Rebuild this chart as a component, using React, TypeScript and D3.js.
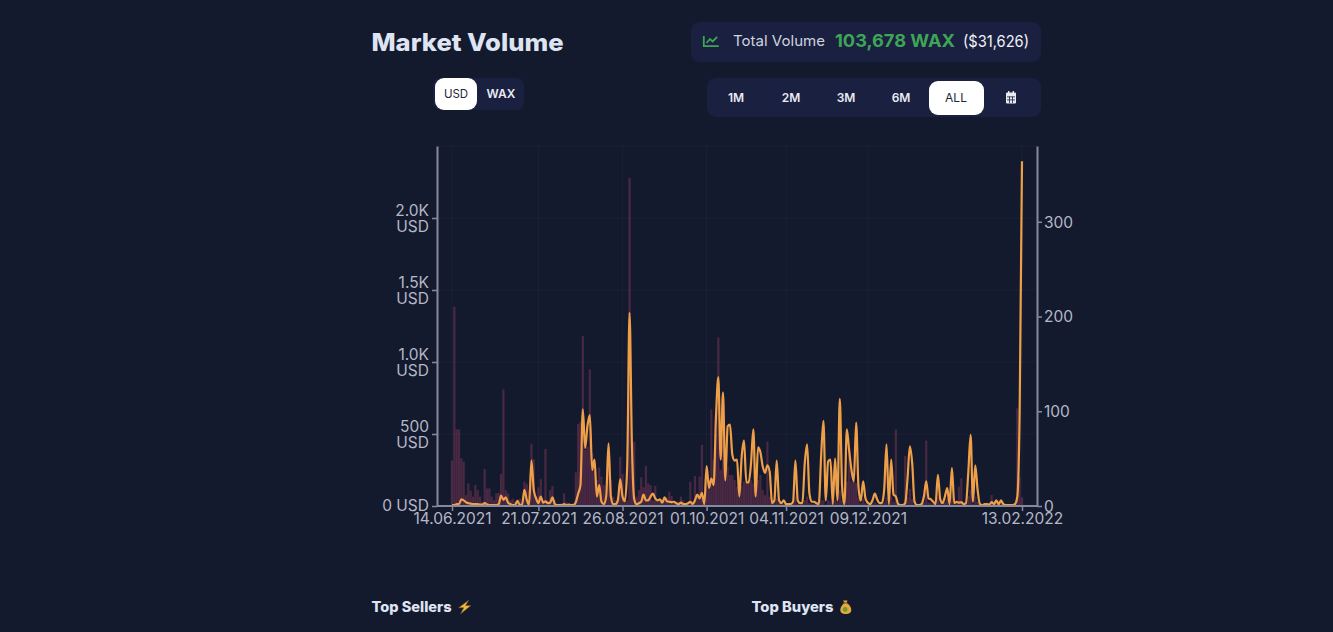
import { useEffect, useRef } from "react";
import * as d3 from "d3";

const startDate = "2021-06-14";
const tickDates = ["2021-06-14", "2021-07-21", "2021-08-26", "2021-10-01", "2021-11-04", "2021-12-09", "2022-02-13"];
const usdTicks = [0, 500, 1000, 1500, 2000];
const usdLabels = ["0 USD", "500", "1.0K", "1.5K", "2.0K"];
const waxTicks = [0, 100, 200, 300];
const periods = ["1M", "2M", "3M", "6M", "ALL"];

// daily volume in USD (bars, left axis)
const usdVolume = [
  315, 1384, 532, 532, 331, 308, 76, 157, 106, 65, 146, 110, 65, 30, 257, 122, 122, 65, 40, 88,
  92, 222, 810, 110, 88, 40, 50, 30, 40, 50, 20, 169, 153, 110, 430, 326, 65, 130, 187, 40,
  396, 40, 110, 139, 40, 15, 15, 20, 88, 25, 15, 15, 20, 234, 569, 585, 1180, 389, 412, 949,
  366, 319, 180, 268, 204, 146, 65, 412, 180, 65, 40, 65, 342, 222, 65, 40, 2278, 342, 447, 65,
  110, 199, 130, 278, 157, 146, 40, 139, 40, 30, 40, 50, 60, 100, 70, 30, 15, 30, 65, 40,
  20, 20, 169, 30, 208, 60, 204, 424, 50, 130, 180, 671, 320, 500, 1171, 250, 440, 238, 273, 215,
  215, 180, 134, 123, 139, 169, 157, 169, 180, 157, 146, 180, 215, 111, 76, 447, 65, 40, 40, 50,
  20, 20, 15, 15, 10, 10, 15, 65, 15, 10, 15, 40, 65, 20, 15, 15, 10, 10, 40, 40,
  10, 40, 30, 10, 40, 30, 110, 40, 15, 169, 410, 169, 169, 160, 60, 20, 50, 20, 10, 10,
  15, 25, 15, 10, 10, 25, 60, 15, 65, 30, 532, 15, 10, 10, 347, 60, 120, 50, 10, 8,
  8, 10, 25, 454, 25, 20, 15, 10, 60, 20, 10, 25, 50, 10, 70, 10, 20, 134, 192, 15,
  15, 70, 110, 15, 65, 30, 10, 8, 10, 8, 8, 76, 15, 20, 10, 20, 10, 8, 8, 8,
  8, 10, 678, 200, 60,
];

// daily volume on the right axis (line)
const lineVolume = [
  1, 1, 2, 2, 7, 6, 4, 3, 2.5, 2, 2, 2, 1.5, 1.5, 3, 1.5, 1, 1, 1, 1,
  2, 11, 6.5, 9, 3.5, 2, 1, 1, 5.5, 1, 1.5, 17, 6.5, 1.5, 48, 17, 8, 3, 10, 3.5,
  5, 3, 3.5, 9, 2, 1, 1, 1, 2, 1, 1.5, 1, 1, 4, 13, 22, 102, 61, 85, 96,
  38, 49, 10, 22, 4.5, 2, 10, 66, 10, 2, 2, 6, 28, 10, 5, 42, 204, 66, 7, 2,
  3, 4.5, 12, 6, 6, 10, 13, 8, 6, 7, 3.5, 9, 5, 4.5, 4, 4.5, 3, 2, 3.5, 2,
  2, 3, 4.5, 2, 6, 12, 8, 14, 2, 42, 19, 29, 22, 94, 136, 49, 120, 27, 84, 86,
  54, 48, 49, 10, 52, 69, 25, 25, 45, 81, 10, 62, 57, 42, 35, 43, 36, 3, 6, 48,
  6, 3, 6, 2, 2, 2, 4.5, 48, 6, 3, 3.5, 45, 65, 13, 4.5, 4.5, 3, 2, 52, 90,
  6, 47, 49, 2, 50, 6, 113, 20, 2, 81, 59, 38, 26, 88, 20, 5.6, 26, 8, 3.5, 2,
  6, 13, 7, 3, 3, 17, 65, 2, 49, 12, 10, 2, 1, 1, 3, 29, 63, 45, 4.5, 1,
  1, 2, 10, 26, 8, 7, 4.5, 2, 33, 7, 3, 10, 19, 2, 40, 3, 4.5, 3.5, 4, 2,
  3, 35, 75, 4.5, 43, 17, 2, 1, 2, 2, 1.5, 4, 2, 6, 2, 6, 2, 1, 1, 1,
  1, 2, 10, 100, 364,
];

const fontFamily = "Inter, 'Open Sans', sans-serif";
const parseDate = d3.utcParse("%Y-%m-%d");
const fmtDate = d3.utcFormat("%d.%m.%Y");

function Header() {
  const panel = "#1a2040";
  const font = { fontFamily };
  return (
    <g style={font}>
      <text x={371.5} y={51} fontSize={24} fontWeight={800} fill="#dfe4f2" textLength={192} lengthAdjust="spacingAndGlyphs">
        Market Volume
      </text>

      {/* total volume */}
      <rect x={691} y={22} width={350} height={40} rx={9} fill={panel} />
      <g fill="none" stroke="#3fa556" strokeWidth={1.8}>
        <path d="M703.8 36v10.2h15" />
        <path d="M706.5 43l3.5-4 2.6 2.4 4.6-4.6" />
      </g>
      <text x={733} y={46} fontSize={14.5} fill="#cfd3de" textLength={92} lengthAdjust="spacingAndGlyphs">
        Total Volume
      </text>
      <text x={835} y={46.5} fontSize={18} fontWeight={700} fill="#3fa556" textLength={120} lengthAdjust="spacingAndGlyphs">
        103,678 WAX
      </text>
      <text x={963} y={46.5} fontSize={16} fill="#f2f3f7" textLength={66} lengthAdjust="spacingAndGlyphs">
        ($31,626)
      </text>

      {/* currency switch */}
      <rect x={433} y={78} width={91} height={32} rx={8} fill={panel} />
      <rect x={435} y={78} width={42} height={32} rx={9} fill="#ffffff" />
      <text x={456} y={98} fontSize={11.5} textAnchor="middle" fill="#23273a">
        USD
      </text>
      <text x={501} y={98} fontSize={12} fontWeight={600} textAnchor="middle" fill="#e9ebf3">
        WAX
      </text>

      {/* period switch */}
      <rect x={707} y={78} width={334} height={39} rx={9} fill={panel} />
      <rect x={929} y={81} width={55} height={34} rx={9} fill="#ffffff" />
      {periods.map((p, i) => (
        <text
          key={p}
          x={736 + i * 55}
          y={102}
          fontSize={12}
          fontWeight={p === "ALL" ? 400 : 600}
          textAnchor="middle"
          fill={p === "ALL" ? "#23273a" : "#e9ebf3"}
        >
          {p}
        </text>
      ))}
      <g fill="#e9ebf3">
        <rect x={1006} y={92.5} width={10} height={11} rx={1} />
        <rect x={1007} y={96.5} width={8} height={0.8} fill={panel} />
        <rect x={1007} y={99.5} width={8} height={0.8} fill={panel} />
        <rect x={1009} y={96.5} width={0.8} height={6.5} fill={panel} />
        <rect x={1012} y={96.5} width={0.8} height={6.5} fill={panel} />
        <rect x={1008} y={91} width={1.4} height={2.5} />
        <rect x={1012.6} y={91} width={1.4} height={2.5} />
      </g>

      {/* section titles */}
      <text x={371.5} y={612} fontSize={14} fontWeight={800} fill="#dfe4f2" textLength={80} lengthAdjust="spacingAndGlyphs">
        Top Sellers
      </text>
      <path d="M469 600l-10.5 7.8h5.2l-3.2 6.2 10.5-8.4h-5.4z" fill="#f3b63f" stroke="#5a4420" strokeWidth={0.5} />
      <text x={751.5} y={612} fontSize={14} fontWeight={800} fill="#dfe4f2" textLength={82} lengthAdjust="spacingAndGlyphs">
        Top Buyers
      </text>
      <path d="M843 600.5h4.5l-1 2.6c3 1.5 4.8 4.2 4.8 7 0 2.8-2.2 4-5.5 4s-5.5-1.2-5.5-4c0-2.8 1.8-5.5 4.6-7z" fill="#e2a93b" />
      <rect x={843} y={602.4} width={4.4} height={1.2} fill="#8a6420" />
      <circle cx={845.2} cy={609.5} r={2.4} fill="#6f9a34" />
    </g>
  );
}

export default function App() {
  const chartRef = useRef<SVGGElement>(null);

  useEffect(() => {
    if (!chartRef.current) return;
    document.body.style.margin = "0";
    document.body.style.background = "#141a2e";

    const svg = d3.select(chartRef.current);
    svg.selectAll("*").remove();

    const chart = { left: 437, right: 1037, top: 146, bottom: 506 };
    const start = parseDate(startDate) as Date;
    const dates = usdVolume.map((_, i) => d3.utcDay.offset(start, i));
    const ticks = tickDates.map((d) => parseDate(d) as Date);

    const x = d3
      .scaleUtc()
      .domain([start, ticks[ticks.length - 1]])
      .range([452, 1022]);
    const yUsd = d3.scaleLinear().domain([0, 2500]).range([chart.bottom, chart.top]);
    const yWax = d3.scaleLinear().domain([0, 380]).range([chart.bottom, chart.top]);

    const axisColor = "#868b9c";
    const labelColor = "#b4b8c6";
    const gridColor = "rgba(255,255,255,0.03)";

    // Grid lines
    const grid = svg.append("g").attr("stroke", gridColor).attr("stroke-width", 1);
    grid
      .selectAll("line.h")
      .data([...usdTicks.slice(1), 2500])
      .join("line")
      .attr("class", "h")
      .attr("x1", chart.left)
      .attr("x2", chart.right)
      .attr("y1", (d) => yUsd(d))
      .attr("y2", (d) => yUsd(d));
    grid
      .selectAll("line.v")
      .data(ticks)
      .join("line")
      .attr("class", "v")
      .attr("x1", (d) => x(d))
      .attr("x2", (d) => x(d))
      .attr("y1", chart.top)
      .attr("y2", chart.bottom);

    // Bars
    svg
      .append("g")
      .selectAll("rect")
      .data(usdVolume)
      .join("rect")
      .attr("x", (_, i) => x(dates[i]) - 1.1)
      .attr("width", 2.2)
      .attr("y", (d) => yUsd(d))
      .attr("height", (d) => chart.bottom - yUsd(d))
      .attr("fill", "#e0507a")
      .attr("fill-opacity", 0.26);

    // Line
    const line = d3
      .line<number>()
      .x((_, i) => x(dates[i]))
      .y((d) => yWax(d))
      .curve(d3.curveMonotoneX);
    svg
      .append("path")
      .datum(lineVolume)
      .attr("d", line)
      .attr("fill", "none")
      .attr("stroke", "#ee9f48")
      .attr("stroke-width", 2.2)
      .attr("stroke-linejoin", "round");

    const styleAxis = (g: any) => {
      g.select(".domain").attr("stroke", axisColor).attr("stroke-width", 2);
      g.selectAll(".tick line").attr("stroke", axisColor).attr("stroke-width", 1.5);
      g.selectAll(".tick text")
        .attr("fill", labelColor)
        .attr("font-family", fontFamily)
        .attr("font-size", "15.5px");
    };

    // Left axis, labels on two lines apart from the zero
    const leftAxis = svg
      .append("g")
      .attr("transform", `translate(${chart.left},0)`)
      .call(
        d3
          .axisLeft(yUsd)
          .tickValues(usdTicks)
          .tickSize(5)
          .tickSizeOuter(0)
          .tickPadding(3)
          .tickFormat((_, i) => usdLabels[i]),
      )
      .call(styleAxis);
    leftAxis.selectAll<SVGTextElement, number>(".tick text").each(function (d, i) {
      if (d === 0) return;
      const t = d3.select(this).text(null).attr("y", 0).attr("dy", null);
      t.append("tspan").attr("x", -8).attr("y", -3).text(usdLabels[i]);
      t.append("tspan").attr("x", -8).attr("y", 13).text("USD");
    });

    // Right axis
    svg
      .append("g")
      .attr("transform", `translate(${chart.right},0)`)
      .call(d3.axisRight(yWax).tickValues(waxTicks).tickSize(5).tickSizeOuter(0).tickPadding(2))
      .call(styleAxis)
      .call((g) => g.selectAll(".tick text").attr("dy", "0.34em"));

    // Bottom axis
    svg
      .append("g")
      .attr("transform", `translate(0,${chart.bottom})`)
      .call(
        d3
          .axisBottom(x)
          .tickValues(ticks)
          .tickSize(5)
          .tickSizeOuter(0)
          .tickPadding(2)
          .tickFormat((d) => fmtDate(d as Date)),
      )
      .call(styleAxis)
      .call((g) => g.select(".domain").attr("d", `M${chart.left},0H${chart.right}`));
  }, []);

  return (
    <svg
      width={1333}
      height={632}
      style={{ position: "absolute", left: 0, top: 0, background: "#141a2e" }}
      role="img"
      aria-label="Market volume chart"
    >
      <Header />
      <g ref={chartRef} />
    </svg>
  );
}
